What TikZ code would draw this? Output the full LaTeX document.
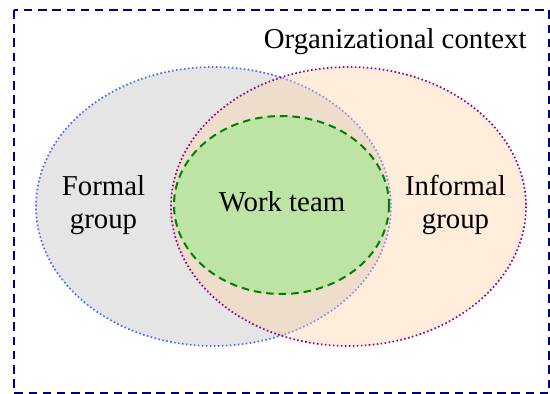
\documentclass[tikz,border=0pt]{standalone}
\usepackage{fontspec}
\setmainfont{Liberation Serif}
\definecolor{frameblue}{RGB}{0,0,128}
\definecolor{dotblue}{RGB}{60,110,250}
\definecolor{dotpurple}{RGB}{140,0,140}
\definecolor{teamfill}{RGB}{190,228,165}
\definecolor{teamline}{RGB}{0,128,0}
\tikzset{
  lbl/.style={inner sep=0pt, font=\fontsize{28.8}{33}\selectfont, align=center},
  framebox/.style={draw=frameblue, line width=2pt, dash pattern=on 8.5pt off 5.7pt},
  formalset/.style={fill=gray!20, draw=dotblue, line width=1.7pt, dash pattern=on 1.6pt off 2.4pt},
  informalset/.style={fill=orange!35, fill opacity=0.4, draw=dotpurple, draw opacity=1, line width=1.7pt, dash pattern=on 1.6pt off 2.4pt},
  teamset/.style={fill=teamfill, draw=teamline, line width=2pt, dash pattern=on 7.5pt off 5pt},
}
\begin{document}
\begin{tikzpicture}[x=1pt,y=-1pt]
\useasboundingbox (0,0) rectangle (550,394);
\draw[framebox] (14,10) rectangle (549,393);
\path[formalset] (213.5,206.5) ellipse [x radius=177.5, y radius=139.5];
\path[informalset] (348.5,206.5) ellipse [x radius=177.5, y radius=139.5];
\path[teamset] (281.5,205) ellipse [x radius=107.5, y radius=89];
\node[lbl, anchor=base east] (ctx) at (526.7,48) {Organizational context};
\node[lbl] (formal) at (103.5,205.5) {Formal\\group};
\node[lbl] (informal) at (455.5,205) {Informal\\group};
\node[lbl, anchor=base] (team) at (282,211) {Work team};
\end{tikzpicture}
\end{document}
